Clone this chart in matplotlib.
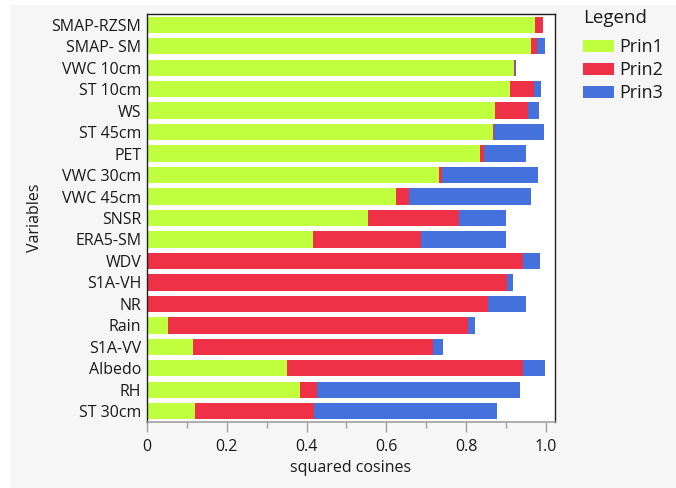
import matplotlib.pyplot as plt
import matplotlib.patches as mpatches
import numpy as np

variables = ['SMAP-RZSM', 'SMAP- SM', 'VWC 10cm', 'ST 10cm', 'WS', 'ST 45cm', 'PET',
             'VWC 30cm', 'VWC 45cm', 'SNSR', 'ERA5-SM', 'WDV', 'S1A-VH', 'NR', 'Rain',
             'S1A-VV', 'Albedo', 'RH', 'ST 30cm']
prin1 = [0.973, 0.964, 0.921, 0.910, 0.872, 0.867, 0.835, 0.733, 0.625, 0.553, 0.417,
         0.003, 0.001, 0.000, 0.052, 0.116, 0.350, 0.384, 0.120]
prin2 = [0.021, 0.015, 0.001, 0.060, 0.084, 0.003, 0.011, 0.007, 0.031, 0.230, 0.270,
         0.940, 0.902, 0.855, 0.752, 0.600, 0.592, 0.042, 0.298]
prin3 = [0.000, 0.018, 0.002, 0.017, 0.027, 0.126, 0.105, 0.240, 0.306, 0.117, 0.212,
         0.043, 0.014, 0.095, 0.019, 0.027, 0.055, 0.509, 0.459]
series_names = ['Prin1', 'Prin2', 'Prin3']
colors = ['#C0FF3E', '#EE3147', '#4471DB']

plt.rcParams['font.family'] = ['Open Sans', 'DejaVu Sans']
plt.rcParams['text.color'] = '#1A1A1A'
plt.rcParams['axes.labelcolor'] = '#1A1A1A'
plt.rcParams['xtick.labelcolor'] = '#1A1A1A'
plt.rcParams['ytick.labelcolor'] = '#1A1A1A'

fig = plt.figure(figsize=(6.76, 4.88), dpi=100, facecolor='white')
fig.patches.append(mpatches.Rectangle((10 / 676, 0), 1, 1 - 5 / 488, transform=fig.transFigure,
                                      facecolor='#F6F6F6', edgecolor='none', zorder=-10))

ax = fig.add_axes([147 / 676, 1 - 422 / 488, 408 / 676, 408 / 488])
ax.set_facecolor('white')

y = np.arange(len(variables))
left = np.zeros(len(variables))
for vals, name, c in zip([prin1, prin2, prin3], series_names, colors):
    vals = np.array(vals)
    ax.barh(y, vals, left=left, height=0.76, color=c, label=name,
            edgecolor='none')
    left += vals

ax.set_ylim(len(variables) - 0.5, -0.5)
ax.set_xlim(0, 1.023)
ax.set_yticks(y)
ax.set_yticklabels(variables, fontsize=11.5)
ax.tick_params(axis='y', length=0, pad=4)
ax.set_xticks([0, 0.2, 0.4, 0.6, 0.8, 1.0])
ax.set_xticklabels(['0', '0.2', '0.4', '0.6', '0.8', '1.0'], fontsize=11.5)
ax.set_xticks(np.arange(0.1, 1.0, 0.2), minor=True)
ax.tick_params(axis='x', which='major', length=7, width=1, color='#A0A0A0', pad=5)
ax.tick_params(axis='x', which='minor', length=4, width=1, color='#A0A0A0')

for s in ['top', 'right', 'left']:
    ax.spines[s].set_color('#202020')
    ax.spines[s].set_linewidth(1)
ax.spines['bottom'].set_color('#A0A0A0')
ax.spines['bottom'].set_linewidth(1.2)

ax.set_xlabel('squared cosines', fontsize=11.5, labelpad=4)
ax.set_ylabel('Variables', fontsize=11.5, labelpad=6)

leg = fig.legend(loc='upper left', bbox_to_anchor=(583 / 676, 1 - 9 / 488),
                 title='Legend', frameon=False, fontsize=13, title_fontsize=13.5,
                 borderpad=0, borderaxespad=0,
                 handlelength=1.72, handleheight=0.67, handletextpad=0.3,
                 labelspacing=0.28, alignment='left')
# a bit more room between the title and the entries
leg._legend_box.sep = 8

fig.savefig('out.png', dpi=100, facecolor=fig.get_facecolor())
